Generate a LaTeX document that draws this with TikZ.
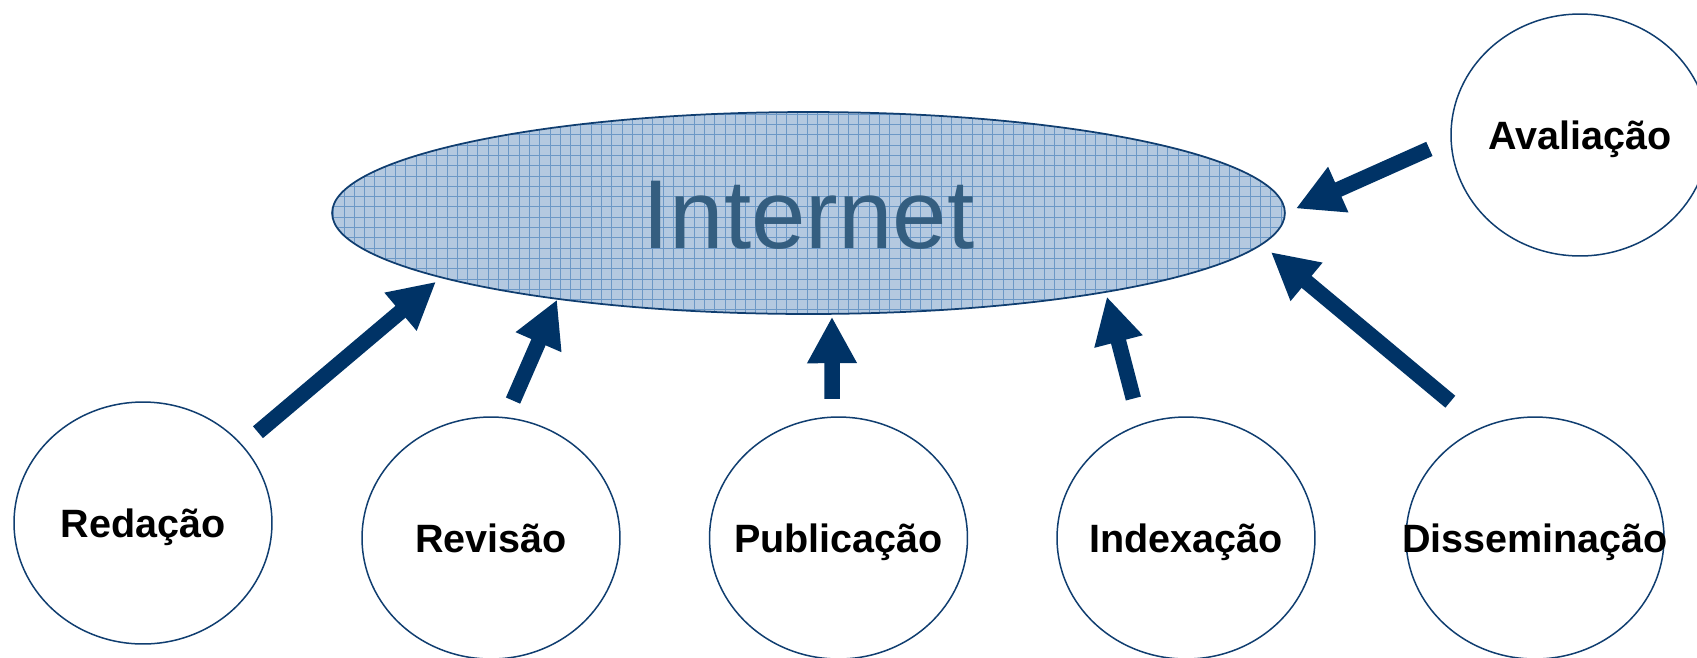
\documentclass[tikz,border=0pt]{standalone}
\usepackage{fontspec}
\setmainfont{Liberation Sans}
\usetikzlibrary{arrows.meta,shapes.geometric}

\definecolor{contorno}{RGB}{16,62,112}
\definecolor{azulseta}{RGB}{0,51,102}
\definecolor{fundorede}{RGB}{180,201,224}
\definecolor{grade}{RGB}{108,152,198}
\definecolor{textorede}{RGB}{52,94,128}

\tikzset{
  etapa/.style={ellipse, draw=contorno, line width=0.03cm, fill=white,
    minimum width=5.16cm, minimum height=4.84cm, inner sep=0pt,
    font=\fontsize{22.5}{27}\selectfont\bfseries, text height=16.1pt, text depth=0pt},
  rede/.style={ellipse, draw=contorno, line width=0.035cm, fill=fundorede,
    minimum width=19.06cm, minimum height=4.04cm, inner sep=0pt,
    text=textorede, font=\fontsize{55.7}{60}\selectfont, text height=39.9pt, text depth=0pt,
    path picture={\draw[grade, line width=0.45pt]
      (path picture bounding box.south west) grid[step=0.206cm]
      (path picture bounding box.north east);}},
  seta/.style={draw=azulseta, line width=0.31cm, -{Triangle[length=0.93cm,width=0.93cm]}}
}

\begin{document}
\begin{tikzpicture}[x=0.02cm,y=-0.02cm]
  \useasboundingbox (0,0) rectangle (1697,657);
  \node[rede] (internet) at (808.5,213) {Internet};
  \node[etapa] (redacao) at (143,523) {\makebox[0pt]{Redação}};
  \node[etapa] (revisao) at (491,538) {\makebox[0pt]{Revisão}};
  \node[etapa] (publicacao) at (838.5,538) {\makebox[0pt]{Publicação}};
  \node[etapa] (indexacao) at (1186,538) {\makebox[0pt]{Indexação}};
  \node[etapa] (disseminacao) at (1535,538) {\makebox[0pt]{Disseminação}};
  \node[etapa] (avaliacao) at (1580,135) {\makebox[0pt]{Avaliação}};
  \begin{scope}[seta]
    \draw[shorten <=0.4cm, shorten >=0.12cm] (redacao.38) to (internet.190);
    \draw[shorten <=0.36cm] (revisao.83) to (internet.199);
    \draw[shorten <=0.35cm, shorten >=0.04cm] (publicacao.93) to (internet.283);
    \draw[shorten <=0.53cm, shorten >=0.08cm] (indexacao.112) to (internet.345);
    \draw[shorten <=0.8cm, shorten >=0.23cm] (disseminacao.116) to (internet.356);
    \draw[shorten <=0.46cm, shorten >=0.22cm] (avaliacao.182) to (internet.east);
  \end{scope}
\end{tikzpicture}
\end{document}
